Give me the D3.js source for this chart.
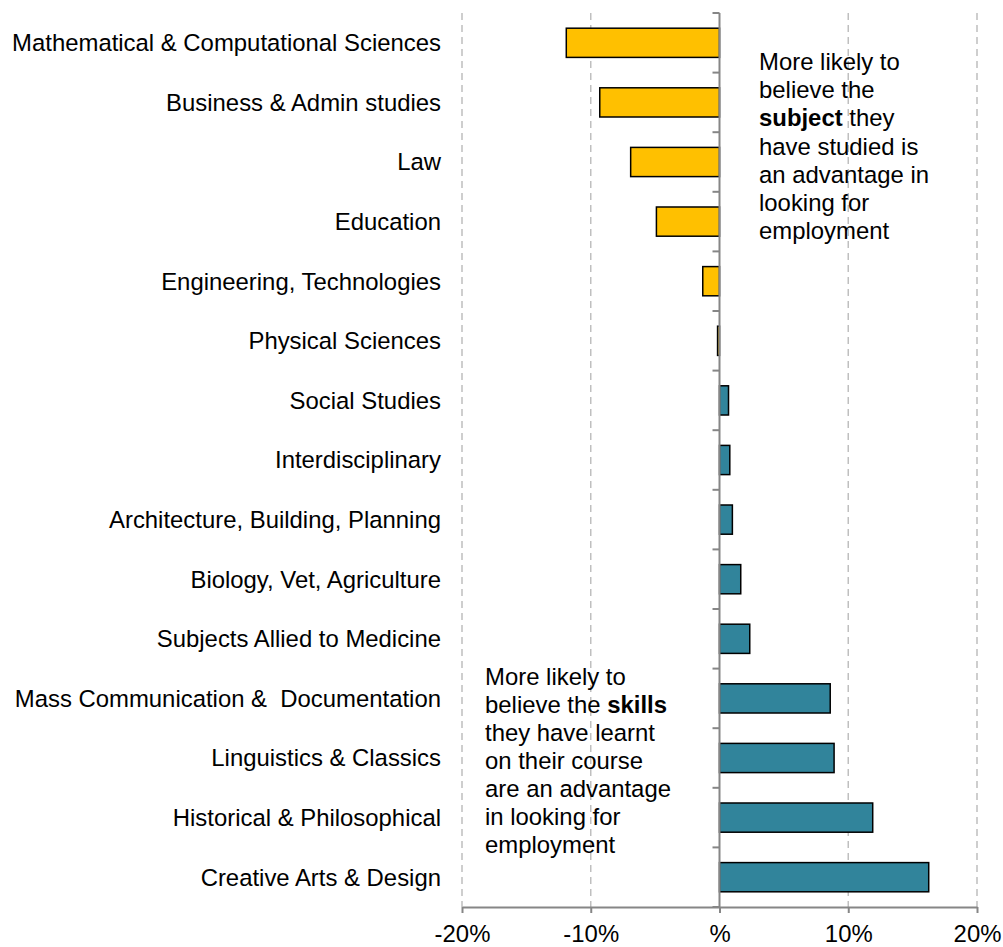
<!DOCTYPE html>
<html><head><meta charset="utf-8">
<script src="https://cdn.jsdelivr.net/npm/d3@7"></script>
<style>
body{margin:0;background:#fff;}
text{font-family:"Liberation Sans",Arial,sans-serif;fill:#000;}
</style></head>
<body><svg id="c" width="1003" height="947"></svg>
<script>
const categories = ["Mathematical & Computational Sciences","Business & Admin studies","Law","Education","Engineering, Technologies","Physical Sciences","Social Studies","Interdisciplinary","Architecture, Building, Planning","Biology, Vet, Agriculture","Subjects Allied to Medicine","Mass Communication &  Documentation","Linguistics & Classics","Historical & Philosophical","Creative Arts & Design"];
const values = [-11.9,-9.3,-6.9,-4.9,-1.3,-0.15,0.7,0.8,1.0,1.65,2.35,8.6,8.9,11.9,16.25];
const xTicks = [-20,-10,0,10,20];
const xTickLabels = ["-20%","-10%","%","10%","20%"];
const noteTop = [["More likely to"],["believe the"],[["subject",true],[" they",false]],["have studied is"],["an advantage in"],["looking for"],["employment"]];
const noteBottom = [["More likely to"],[["believe the ",false],["skills",true]],["they have learnt"],["on their course"],["are an advantage"],["in looking for"],["employment"]];

const FS = 23.9;
const svg = d3.select("#c");
const pLeft=462, pRight=977, pTop=13, pBottom=907;
const x = d3.scaleLinear().domain([-20,20]).range([pLeft,pRight]);
const y = d3.scaleBand().domain(categories).range([pTop,pBottom]).paddingInner(0.51).paddingOuter(0.255);

// gridlines
svg.append("g").selectAll("line").data(xTicks.filter(d=>d!==0)).join("line")
  .attr("x1",d=>x(d)).attr("x2",d=>x(d)).attr("y1",pTop).attr("y2",pBottom)
  .attr("stroke","#BFBFBF").attr("stroke-width",1.5).attr("stroke-dasharray","7,5");

// bars
svg.append("g").selectAll("rect").data(values).join("rect")
  .attr("x",d=>x(Math.min(0,d))).attr("width",d=>Math.abs(x(d)-x(0)))
  .attr("y",(d,i)=>y(categories[i])).attr("height",y.bandwidth())
  .attr("fill",d=>d<0?"#FFC000":"#31849B").attr("stroke","#000").attr("stroke-width",1.5);

// x axis
const xa = svg.append("g").attr("transform",`translate(0,${pBottom})`)
  .call(d3.axisBottom(x).tickValues(xTicks).tickSize(6).tickSizeOuter(0).tickFormat((d,i)=>xTickLabels[i]));
xa.select(".domain").attr("stroke","#868686").attr("stroke-width",2);
xa.selectAll(".tick line").attr("stroke","#868686").attr("stroke-width",2);
xa.selectAll(".tick text").attr("font-size",FS).attr("y",0).attr("dy",35).attr("font-family","Liberation Sans, Arial, sans-serif").attr("fill","#000");

// y axis at zero
const bounds = categories.map(c=>y(c)-y.step()*y.paddingInner()/2).concat([pBottom]);
const ya = svg.append("g");
ya.append("line").attr("x1",x(0)).attr("x2",x(0)).attr("y1",pTop).attr("y2",pBottom).attr("stroke","#868686").attr("stroke-width",2);
ya.selectAll("line.t").data(bounds).join("line").attr("class","t")
  .attr("x1",x(0)-7).attr("x2",x(0)).attr("y1",d=>d).attr("y2",d=>d)
  .attr("stroke","#868686").attr("stroke-width",2);

// category labels
svg.append("g").selectAll("text").data(categories).join("text")
  .attr("x",441).attr("y",d=>y(d)+y.bandwidth()/2).attr("dy","0.35em")
  .attr("text-anchor","end").attr("font-size",FS).style("white-space","pre").text(d=>d);

function note(lines, x0, y0, lh){
  const t = svg.append("text").attr("x",x0).attr("y",y0).attr("font-size",FS);
  lines.forEach((ln,i)=>{
    const parts = typeof ln[0]==="string" ? [[ln[0],false]] : ln;
    parts.forEach((p,j)=>{
      const ts = t.append("tspan").text(p[0]).style("white-space","pre");
      if(j===0) ts.attr("x",x0).attr("dy",i===0?0:lh);
      if(p[1]) ts.attr("font-weight","bold");
    });
  });
}
note(noteTop, 759, 70, 28.2);
note(noteBottom, 485, 685, 28);
</script></body></html>
